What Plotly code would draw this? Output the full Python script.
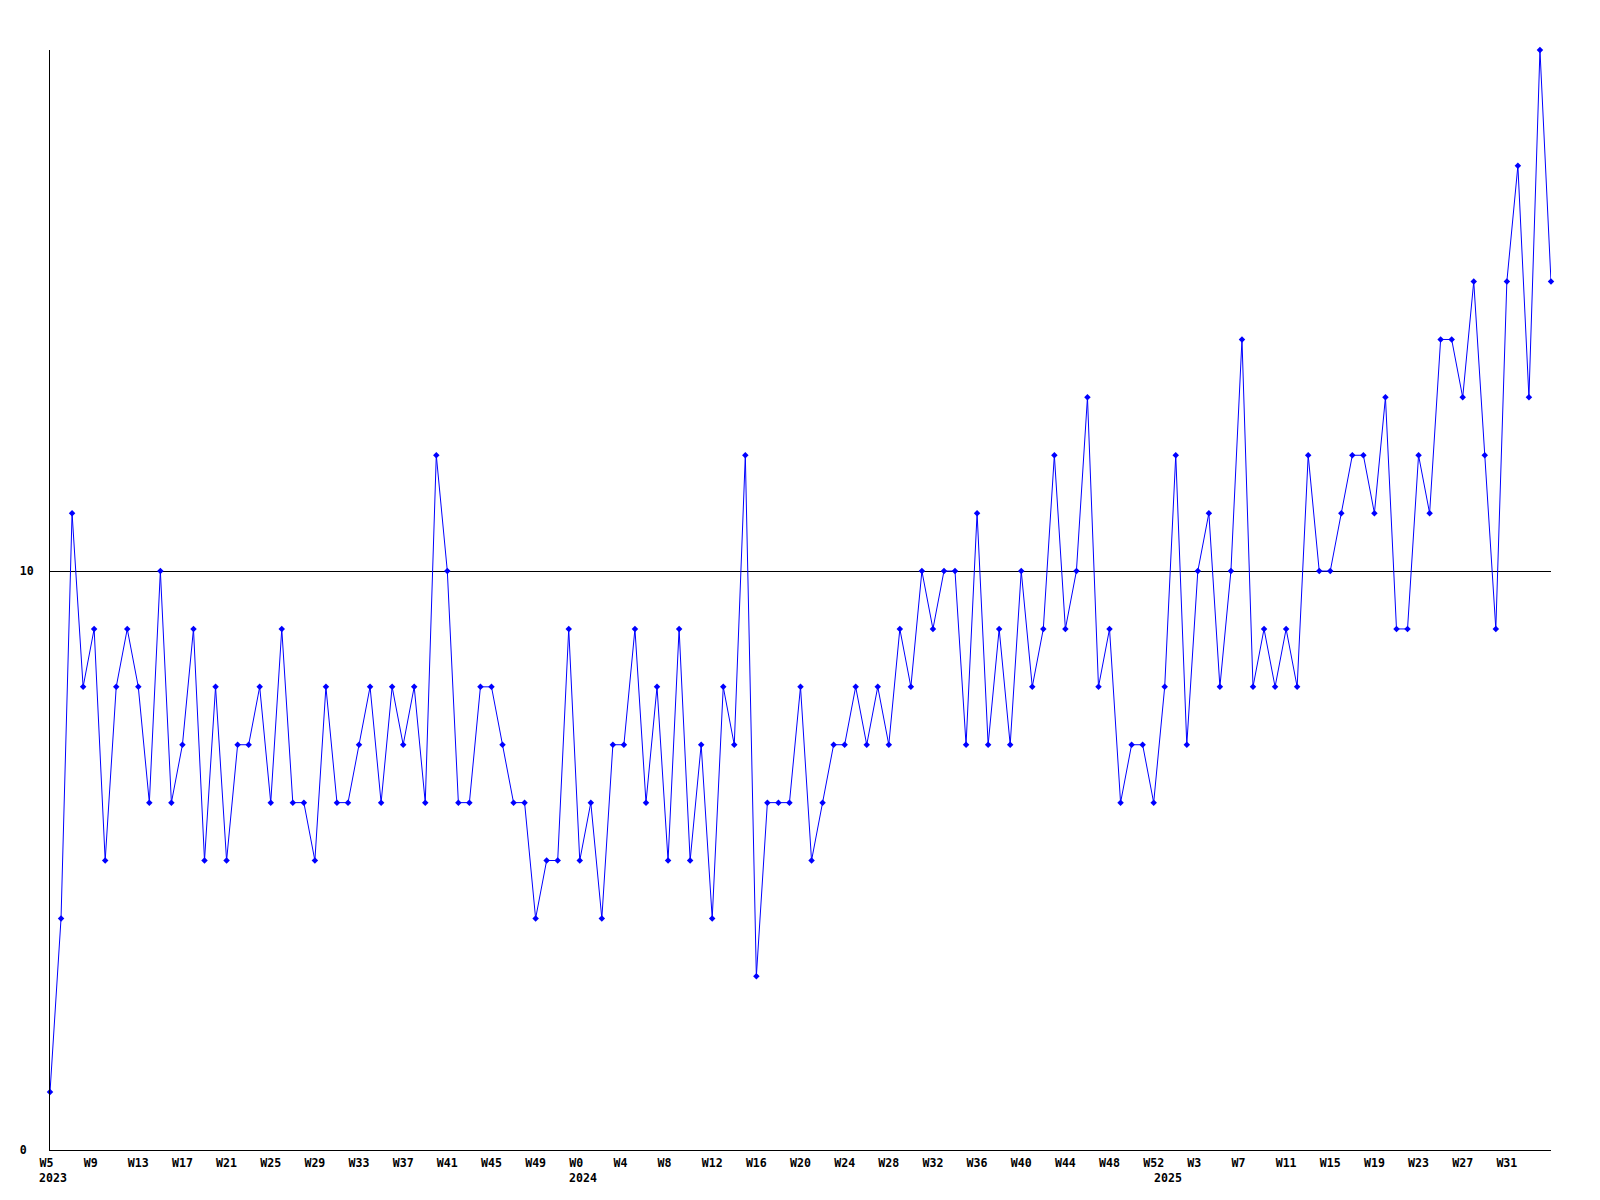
import plotly.graph_objects as go

# weekly counts, first point = W5 2023, last point = W35 2025
values = [
    1, 4, 11, 8, 9, 5, 8, 9, 8, 6,
    10, 6, 7, 9, 5, 8, 5, 7, 7, 8,
    6, 9, 6, 6, 5, 8, 6, 6, 7, 8,
    6, 8, 7, 8, 6, 12, 10, 6, 6, 8,
    8, 7, 6, 6, 4, 5, 5, 9, 5, 6,
    4, 7, 7, 9, 6, 8, 5, 9, 5, 7,
    4, 8, 7, 12, 3, 6, 6, 6, 8, 5,
    6, 7, 7, 8, 7, 8, 7, 9, 8, 10,
    9, 10, 10, 7, 11, 7, 9, 7, 10, 8,
    9, 12, 9, 10, 13, 8, 9, 6, 7, 7,
    6, 8, 12, 7, 10, 11, 8, 10, 14, 8,
    9, 8, 9, 8, 12, 10, 10, 11, 12, 12,
    11, 13, 9, 9, 12, 11, 14, 14, 13, 15,
    12, 9, 15, 17, 13, 19, 15,
]

week_tick_labels = [
    "W5", "W9", "W13", "W17", "W21", "W25", "W29", "W33", "W37", "W41", "W45", "W49",
    "W0", "W4", "W8", "W12", "W16", "W20", "W24", "W28", "W32", "W36", "W40", "W44", "W48", "W52",
    "W3", "W7", "W11", "W15", "W19", "W23", "W27", "W31",
]
tick_step = 4

year_labels = ["2023", "2024", "2025"]
year_positions = [0, 48, 101]

y_tick_values = [0, 10]
y_tick_labels = ["0", "10"]

FONT = "DejaVu Sans Mono"
FSIZE = 11.6
NB = "\u00a0"

x_idx = list(range(len(values)))
tickvals = [i * tick_step for i in range(len(week_tick_labels))]
ticktext = [t + NB * (3 - len(t)) for t in week_tick_labels]
ytext = [t + NB * (2 - len(t)) for t in y_tick_labels]

fig = go.Figure()
fig.add_trace(go.Scatter(
    x=x_idx, y=values, mode="lines+markers",
    line=dict(color="#0000ff", width=1),
    marker=dict(symbol="diamond", size=5, color="#0000ff"),
    cliponaxis=False, showlegend=False, hoverinfo="x+y",
))

for txt, pos in zip(year_labels, year_positions):
    fig.add_annotation(
        x=pos, xref="x", y=0, yref="paper", text=txt, showarrow=False,
        xanchor="left", xshift=-13, yanchor="middle", yshift=-27.5,
        font=dict(family=FONT, size=FSIZE, color="black", weight="bold"),
    )

# page body has an 8px margin; size the figure so the plot lands where the reference's does
fig.update_layout(
    width=1584, height=1184,
    margin=dict(l=42, r=41, t=42, b=42),
    paper_bgcolor="white", plot_bgcolor="white",
    font=dict(family=FONT, size=FSIZE, color="black", weight="bold"),
    xaxis=dict(
        range=[0, len(values) - 1], tickmode="array", tickvals=tickvals, ticktext=ticktext,
        tickangle=0, showgrid=False, zeroline=False, showline=True, linecolor="black",
        linewidth=1, ticks="", ticklabelstandoff=2,
        tickfont=dict(family=FONT, size=FSIZE, color="black", weight="bold"),
    ),
    yaxis=dict(
        range=[0, max(values)], tickmode="array", tickvals=y_tick_values, ticktext=ytext,
        showgrid=True, gridcolor="black", gridwidth=1, zeroline=False, showline=True,
        linecolor="black", linewidth=1, ticks="", ticklabelstandoff=13,
        tickfont=dict(family=FONT, size=FSIZE, color="black", weight="bold"),
    ),
)

fig.write_html("out.html")
